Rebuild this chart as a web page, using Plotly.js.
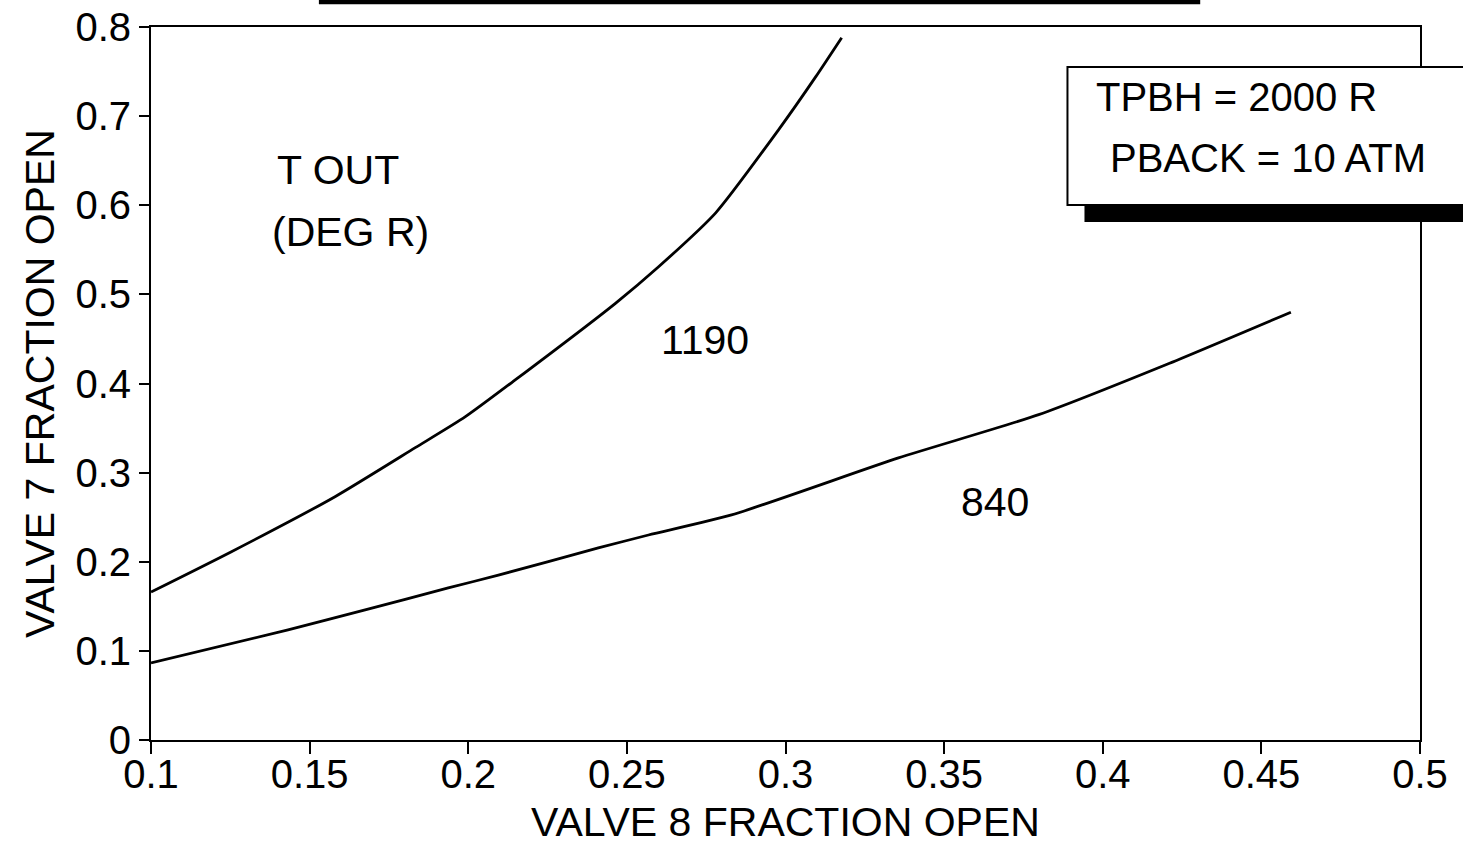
<!DOCTYPE html>
<html>
<head>
<meta charset="utf-8">
<script src="https://cdn.plot.ly/plotly-3.0.1.min.js"></script>
<style>
  html, body { margin: 0; padding: 0; background: #ffffff; }
  #chart { width: 1463px; height: 845px; }
</style>
</head>
<body>
<div id="chart"></div>
<script>
// Curve T OUT = 1190 (upper)
const valve8_1190 = [0.1, 0.1252, 0.158, 0.1833, 0.199, 0.2148, 0.2464, 0.26, 0.278, 0.2978, 0.3095, 0.3177];
const valve7_1190 = [0.166, 0.211, 0.273, 0.328, 0.3625, 0.404, 0.490, 0.531, 0.5915, 0.6846, 0.744, 0.788];

// Curve T OUT = 840 (lower)
const valve8_840 = [0.1, 0.1432, 0.1675, 0.1937, 0.2095, 0.241, 0.2568, 0.283, 0.3356, 0.3798, 0.4199, 0.4593];
const valve7_840 = [0.0864, 0.1235, 0.146, 0.1706, 0.185, 0.2155, 0.230, 0.2525, 0.3165, 0.365, 0.421, 0.480];

const curveLabels = ["1190", "840"];
const xTitle = "VALVE 8 FRACTION OPEN";
const yTitle = "VALVE 7 FRACTION OPEN";
const boxLines = ["TPBH = 2000 R", "PBACK = 10 ATM"];

const FONT = "Liberation Sans, Arial, Helvetica, sans-serif";

const traces = [
  { x: valve8_1190, y: valve7_1190, mode: "lines", name: curveLabels[0],
    line: { color: "#000", width: 2.8, shape: "spline", smoothing: 0.6 }, cliponaxis: false },
  { x: valve8_840, y: valve7_840, mode: "lines", name: curveLabels[1],
    line: { color: "#000", width: 2.8, shape: "spline", smoothing: 0.6 }, cliponaxis: false }
];

const layout = {
  width: 1463, height: 845,
  margin: { l: 151, r: 43, t: 27, b: 105 },
  paper_bgcolor: "#fff", plot_bgcolor: "#fff",
  showlegend: false,
  font: { family: FONT, color: "#000" },
  xaxis: {
    range: [0.1, 0.5], dtick: 0.05, tick0: 0.1,
    showgrid: false, zeroline: false,
    showline: true, linecolor: "#000", linewidth: 2, mirror: true,
    ticks: "outside", ticklen: 12, tickwidth: 2, tickcolor: "#000",
    tickfont: { size: 40, family: FONT },
    ticklabelstandoff: -14,
    title: { text: xTitle, font: { size: 41, family: FONT }, standoff: 20 }
  },
  yaxis: {
    range: [0, 0.8], dtick: 0.1,
    showgrid: false, zeroline: false,
    showline: true, linecolor: "#000", linewidth: 2, mirror: true,
    ticks: "outside", ticklen: 10, tickwidth: 2, tickcolor: "#000",
    tickfont: { size: 40, family: FONT },
    title: { text: yTitle, font: { size: 41, family: FONT }, standoff: 8 }
  },
  shapes: [
    // top partial shadow bar
    { type: "rect", xref: "paper", yref: "paper", x0: 0.1323, x1: 0.8268, y0: 1.032, y1: 1.06,
      fillcolor: "#000", line: { width: 0 }, layer: "above" },
    // box shadow
    { type: "rect", xref: "paper", yref: "paper", x0: 0.7356, x1: 1.05, y0: 0.7265, y1: 0.752,
      fillcolor: "#000", line: { width: 0 }, layer: "above" },
    // box
    { type: "rect", xref: "paper", yref: "paper", x0: 0.7222, x1: 1.05, y0: 0.7504, y1: 0.944,
      fillcolor: "#fff", line: { color: "#000", width: 2 }, layer: "above" }
  ],
  annotations: [
    { xref: "x", yref: "y", x: 0.159, y: 0.640, text: "T OUT", showarrow: false,
      xanchor: "center", yanchor: "middle", font: { size: 41, family: FONT } },
    { xref: "x", yref: "y", x: 0.1628, y: 0.570, text: "(DEG R)", showarrow: false,
      xanchor: "center", yanchor: "middle", font: { size: 41, family: FONT } },
    { xref: "x", yref: "y", x: 0.2745, y: 0.449, text: curveLabels[0], showarrow: false,
      xanchor: "center", yanchor: "middle", font: { size: 41, family: FONT } },
    { xref: "x", yref: "y", x: 0.366, y: 0.267, text: curveLabels[1], showarrow: false,
      xanchor: "center", yanchor: "middle", font: { size: 41, family: FONT } },
    { xref: "paper", yref: "paper", x: 0.8555, y: 0.9018, text: boxLines[0], showarrow: false,
      xanchor: "center", yanchor: "middle", font: { size: 40, family: FONT } },
    { xref: "paper", yref: "paper", x: 0.8803, y: 0.816, text: boxLines[1], showarrow: false,
      xanchor: "center", yanchor: "middle", font: { size: 40, family: FONT } }
  ]
};

Plotly.newPlot("chart", traces, layout, { displayModeBar: false, staticPlot: true });
</script>
</body>
</html>
